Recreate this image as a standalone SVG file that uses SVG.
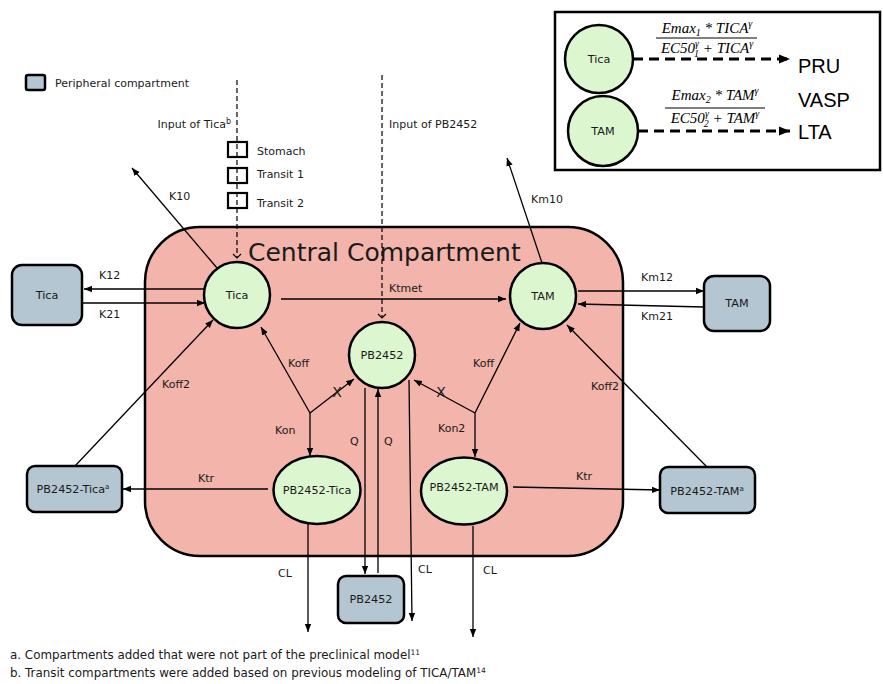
<svg xmlns="http://www.w3.org/2000/svg" width="883" height="684" viewBox="0 0 883 684">
<style>
text{font-family:"DejaVu Sans",Verdana,sans-serif;fill:#1a1a1a}
.lbl{font-size:11px}
.fn{font-size:11.9px}
.nt{font-size:11.2px;text-anchor:middle}
.circ{fill:#dcf6d0;stroke:#000;stroke-width:2.5}
.box{fill:#b3c6d1;stroke:#000;stroke-width:2.5}
.ln{stroke:#000;stroke-width:1.3;fill:none}
.dash{stroke:#000;stroke-width:1.2;fill:none;stroke-dasharray:5 3}
.big{font-family:"Liberation Sans",Arial,sans-serif;font-size:20px;fill:#000}
.fm{font-family:"Liberation Serif","Times New Roman",serif;font-style:italic;font-size:15px;fill:#000}
</style>
<defs>
<marker id="arr" markerUnits="userSpaceOnUse" markerWidth="9" markerHeight="8" refX="8" refY="4" orient="auto"><path d="M0,0.8 L8,4 L0,7.2 z" fill="#000"/></marker>
<marker id="open" markerUnits="userSpaceOnUse" markerWidth="10" markerHeight="10" refX="5" refY="5" orient="auto"><path d="M1,1 L5,5 L1,9" fill="none" stroke="#000" stroke-width="1.2"/></marker>
<marker id="arrbig" markerUnits="userSpaceOnUse" markerWidth="12" markerHeight="10" refX="11" refY="5" orient="auto"><path d="M0,0.5 L11,5 L0,9.5 z" fill="#000"/></marker>
</defs>
<rect width="883" height="684" fill="#fff"/>

<g id="central-compartment">
<rect x="145" y="227" width="478" height="329" rx="55" fill="#f2b4ab" stroke="#000" stroke-width="2.5"/>
<text x="248" y="261" style="font-size:25px">Central Compartment</text>
</g>

<g id="legend-peripheral">
<rect x="26" y="75" width="19" height="15" rx="2" class="box"/>
<text x="55" y="87" class="lbl">Peripheral compartment</text>
</g>

<g id="legend-pd">
<rect x="555" y="12" width="325" height="158" fill="#fff" stroke="#000" stroke-width="2.5"/>
<line x1="633" y1="59" x2="790" y2="59" stroke="#000" stroke-width="3" stroke-dasharray="10 6" marker-end="url(#arrbig)"/>
<line x1="638" y1="131" x2="790" y2="131" stroke="#000" stroke-width="3" stroke-dasharray="10 6" marker-end="url(#arrbig)"/>
<circle cx="599" cy="59" r="34" class="circ"/>
<text x="599" y="63" class="nt">Tica</text>
<circle cx="603" cy="131" r="35" class="circ"/>
<text x="603" y="135" class="nt">TAM</text>
<text x="798" y="73" class="big">PRU</text>
<text x="798" y="107" class="big">VASP</text>
<text x="798" y="139" class="big">LTA</text>
<text x="707" y="33" class="fm" text-anchor="middle">Emax<tspan font-size="10" dy="3">1</tspan><tspan dy="-3"> * TICA</tspan><tspan font-size="10" dy="-6">γ</tspan></text>
<line x1="656" y1="38" x2="757" y2="38" stroke="#000" stroke-width="1"/>
<text x="707" y="53" class="fm" text-anchor="middle">EC50<tspan font-size="10" dy="-6">γ</tspan><tspan font-size="10" dx="-5" dy="10">1</tspan><tspan dy="-4"> + TICA</tspan><tspan font-size="10" dy="-6">γ</tspan></text>
<text x="715" y="100" class="fm" text-anchor="middle">Emax<tspan font-size="10" dy="3">2</tspan><tspan dy="-3"> * TAM</tspan><tspan font-size="10" dy="-6">γ</tspan></text>
<line x1="665" y1="108" x2="765" y2="108" stroke="#000" stroke-width="1"/>
<text x="715" y="123" class="fm" text-anchor="middle">EC50<tspan font-size="10" dy="-6">γ</tspan><tspan font-size="10" dx="-5" dy="10">2</tspan><tspan dy="-4"> + TAM</tspan><tspan font-size="10" dy="-6">γ</tspan></text>
</g>

<g id="connectors">
<line x1="237" y1="80" x2="237" y2="258" class="dash" marker-end="url(#open)"/>
<line x1="382" y1="75" x2="382" y2="318" class="dash" marker-end="url(#open)"/>
<line x1="217" y1="268" x2="132" y2="168" class="ln" marker-end="url(#arr)"/>
<line x1="542" y1="263" x2="507" y2="158" class="ln" marker-end="url(#arr)"/>
<line x1="205" y1="289" x2="84" y2="289" class="ln" marker-end="url(#arr)"/>
<line x1="82" y1="303" x2="205" y2="303" class="ln" marker-end="url(#arr)"/>
<line x1="281" y1="299" x2="506" y2="299" class="ln" marker-end="url(#arr)"/>
<line x1="578" y1="291" x2="704" y2="291" class="ln" marker-end="url(#arr)"/>
<line x1="704" y1="307" x2="578" y2="304" class="ln" marker-end="url(#arr)"/>
<line x1="310" y1="413" x2="261" y2="327" class="ln" marker-end="url(#arr)"/>
<line x1="310" y1="413" x2="310" y2="456" class="ln" marker-end="url(#arr)"/>
<line x1="310" y1="413" x2="354" y2="379" class="ln" marker-end="url(#arr)"/>
<line x1="475" y1="413" x2="520" y2="323" class="ln" marker-end="url(#arr)"/>
<line x1="475" y1="413" x2="414" y2="380" class="ln" marker-end="url(#arr)"/>
<line x1="475" y1="413" x2="475" y2="457" class="ln" marker-end="url(#arr)"/>
<line x1="75" y1="466" x2="213" y2="320" class="ln" marker-end="url(#arr)"/>
<line x1="707" y1="467" x2="567" y2="325" class="ln" marker-end="url(#arr)"/>
<line x1="268" y1="489" x2="123" y2="489" class="ln" marker-end="url(#arr)"/>
<line x1="513" y1="487" x2="660" y2="490" class="ln" marker-end="url(#arr)"/>
<line x1="365" y1="388" x2="365" y2="574" class="ln" marker-end="url(#arr)"/>
<line x1="378" y1="573" x2="378" y2="389" class="ln" marker-end="url(#arr)"/>
<line x1="409" y1="380" x2="412" y2="621" class="ln" marker-end="url(#arr)"/>
<line x1="308" y1="524" x2="308" y2="632" class="ln" marker-end="url(#arr)"/>
<line x1="473" y1="526" x2="473" y2="637" class="ln" marker-end="url(#arr)"/>
<text x="337" y="397" style="font-size:14px" text-anchor="middle">X</text>
<text x="441" y="397" style="font-size:14px" text-anchor="middle">X</text>
<text x="169" y="200" class="lbl">K10</text>
<text x="531" y="203" class="lbl">Km10</text>
<text x="99" y="279" class="lbl">K12</text>
<text x="99" y="318" class="lbl">K21</text>
<text x="389" y="292" class="lbl">Ktmet</text>
<text x="641" y="281" class="lbl">Km12</text>
<text x="641" y="320" class="lbl">Km21</text>
<text x="288" y="367" class="lbl">Koff</text>
<text x="473" y="367" class="lbl">Koff</text>
<text x="162" y="388" class="lbl">Koff2</text>
<text x="591" y="390" class="lbl">Koff2</text>
<text x="275" y="434" class="lbl">Kon</text>
<text x="438" y="432" class="lbl">Kon2</text>
<text x="198" y="482" class="lbl">Ktr</text>
<text x="576" y="480" class="lbl">Ktr</text>
<text x="350" y="445" class="lbl">Q</text>
<text x="384" y="445" class="lbl">Q</text>
<text x="278" y="577" class="lbl">CL</text>
<text x="418" y="573" class="lbl">CL</text>
<text x="483" y="574" class="lbl">CL</text>
<text x="231" y="128" class="lbl" text-anchor="end">Input of Tica<tspan font-size="8" dy="-4">b</tspan></text>
<text x="389" y="128" class="lbl">Input of PB2452</text>
</g>

<g id="transit">
<rect x="228" y="142" width="19" height="15" fill="none" stroke="#000" stroke-width="2.2"/>
<rect x="228" y="168" width="19" height="15" fill="none" stroke="#000" stroke-width="2.2"/>
<rect x="228" y="193" width="19" height="15" fill="none" stroke="#000" stroke-width="2.2"/>
<text x="257" y="155" class="lbl">Stomach</text>
<text x="257" y="178" class="lbl">Transit 1</text>
<text x="257" y="207" class="lbl">Transit 2</text>
</g>

<g id="node-tica"><circle cx="237" cy="295" r="33" class="circ"/><text x="237" y="299" class="nt">Tica</text></g>
<g id="node-tam"><circle cx="543" cy="296" r="33" class="circ"/><text x="543" y="300" class="nt">TAM</text></g>
<g id="node-pb2452"><circle cx="382" cy="355" r="33" class="circ"/><text x="382" y="359" class="nt">PB2452</text></g>
<g id="node-pb2452-tica"><ellipse cx="317" cy="490" rx="43.5" ry="34" class="circ"/><text x="317" y="494" class="nt">PB2452-Tica</text></g>
<g id="node-pb2452-tam"><ellipse cx="464" cy="491" rx="43" ry="33.5" class="circ"/><text x="464" y="491" class="nt">PB2452-TAM</text></g>
<g id="periph-tica"><rect x="12" y="265" width="70" height="60" rx="10" class="box"/><text x="47" y="299" class="nt">Tica</text></g>
<g id="periph-tam"><rect x="704" y="276" width="66" height="55" rx="10" class="box"/><text x="737" y="307" class="nt">TAM</text></g>
<g id="periph-pb2452-tica"><rect x="27" y="466" width="95" height="46" rx="8" class="box"/><text x="73" y="493" class="nt">PB2452-Tica<tspan font-size="7" dy="-4">a</tspan></text></g>
<g id="periph-pb2452-tam"><rect x="660" y="467" width="95" height="46" rx="8" class="box"/><text x="707" y="495" class="nt">PB2452-TAM<tspan font-size="7" dy="-4">a</tspan></text></g>
<g id="periph-pb2452"><rect x="338" y="576" width="66" height="47" rx="8" class="box"/><text x="371" y="603" class="nt">PB2452</text></g>

<g id="footnotes">
<text x="10" y="659" class="fn">a. Compartments added that were not part of the preclinical model<tspan font-size="7.5" dy="-4">11</tspan></text>
<text x="10" y="677" class="fn">b. Transit compartments were added based on previous modeling of TICA/TAM<tspan font-size="7.5" dy="-4">14</tspan></text>
</g>
</svg>
